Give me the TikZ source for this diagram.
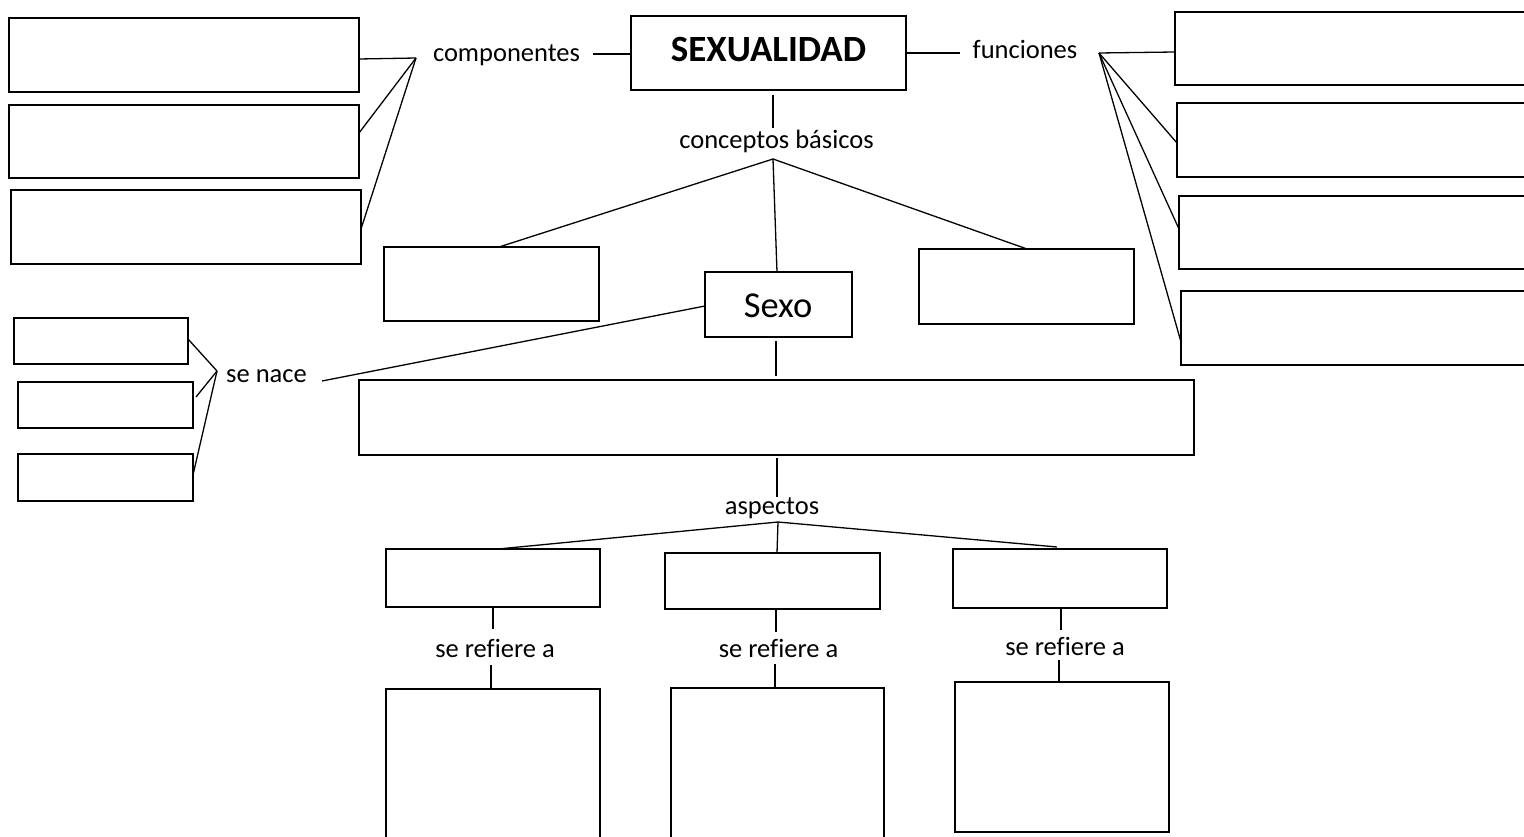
\documentclass[tikz,border=0pt]{standalone}
\usepackage{fontspec}
\setmainfont{Carlito}[Ligatures=NoCommon]
\begin{document}
\begin{tikzpicture}[x=1pt,y=-1pt, line width=1.3pt,
  box/.style={draw, rectangle, inner sep=0pt, outer sep=0pt},
  lbl/.style={anchor=base, inner sep=0pt, font=\fontsize{26.5}{30}\selectfont}]
\useasboundingbox (0,0) rectangle (1524,837);
\clip (0,0) rectangle (1524,837);
% boxes
\node[box, minimum width=350pt, minimum height=74pt] (L1) at (184,55) {};
\node[box, minimum width=350pt, minimum height=73pt] (L2) at (184,141.5) {};
\node[box, minimum width=350pt, minimum height=74pt] (L3) at (186,227) {};
\node[box, minimum width=275pt, minimum height=74pt] (SX) at (768.5,53) {};
\node[box, minimum width=365pt, minimum height=73pt] (R1) at (1357.5,48.5) {};
\node[box, minimum width=363pt, minimum height=74pt] (R2) at (1358.5,140) {};
\node[box, minimum width=361pt, minimum height=73pt] (R3) at (1359.5,232.5) {};
\node[box, minimum width=359pt, minimum height=74pt] (R4) at (1360.5,328) {};
\node[box, minimum width=215pt, minimum height=74pt] (CB1) at (491.5,284) {};
\node[box, minimum width=147pt, minimum height=65pt] (SEXO) at (778.5,304.5) {};
\node[box, minimum width=215pt, minimum height=75pt] (CB3) at (1026.5,286.5) {};
\node[box, minimum width=174pt, minimum height=46pt] (SN1) at (101,341) {};
\node[box, minimum width=175pt, minimum height=46pt] (SN2) at (105.5,405) {};
\node[box, minimum width=175pt, minimum height=47pt] (SN3) at (105.5,477.5) {};
\node[box, minimum width=835pt, minimum height=75pt] (BIG) at (776.5,417.5) {};
\node[box, minimum width=214pt, minimum height=58pt] (A1) at (493,578) {};
\node[box, minimum width=215pt, minimum height=56pt] (A2) at (772.5,581) {};
\node[box, minimum width=214pt, minimum height=59pt] (A3) at (1060,578.5) {};
\node[box, minimum width=214pt, minimum height=171pt] (B1) at (493,774.5) {};
\node[box, minimum width=213pt, minimum height=172pt] (B2) at (777.5,774) {};
\node[box, minimum width=214pt, minimum height=150pt] (B3) at (1062,757) {};
% texts
\node[anchor=base, inner sep=0pt, font=\fontsize{37}{40}\selectfont\bfseries] (SXt) at (768.5,62) {SEXUALIDAD};
\node[anchor=base, inner sep=0pt, font=\fontsize{36.5}{40}\selectfont] (SEXOt) at (778,317) {Sexo};
\node[lbl] (comp) at (506.5,62) {componentes};
\node[lbl] (func) at (1025,59) {funciones};
\node[lbl] (conc) at (776.5,149) {conceptos básicos};
\node[lbl] (senace) at (266.5,382) {se nace};
\node[lbl] (asp) at (772,514) {aspectos};
\node[lbl] (ref1) at (495,657) {se refiere a};
\node[lbl] (ref2) at (778.5,657) {se refiere a};
\node[lbl] (ref3) at (1065,655) {se refiere a};
% junction coordinates
\coordinate (jc) at (416,58);
\coordinate (jf) at (1099,53);
\coordinate (jcb) at (773,159);
\coordinate (jsn) at (217,371);
\coordinate (ja) at (778,522);
% componentes
\draw (L1.east |- 0,59) -- (jc);
\draw (L2.east |- 0,133) -- (jc);
\draw (L3.east |- 0,229) -- (jc);
\coordinate (compR) at (593,54);
\draw (compR) -- (SX.west |- compR);
% funciones
\coordinate (funcL) at (960,53);
\draw (SX.east |- funcL) -- (funcL);
\draw (jf) -- (R1.west |- 0,52);
\draw (jf) -- (R2.west |- 0,143);
\draw (jf) -- (R3.west |- 0,229);
\draw (jf) -- (R4.west |- 0,342);
% conceptos basicos
\coordinate (sxb1) at (773,95);
\coordinate (sxb2) at (773,128);
\draw (sxb1) -- (sxb2);
\draw (jcb) -- (CB1.north -| 499,0);
\draw (jcb) -- (SEXO.north -| 777,0);
\draw (jcb) -- (CB3.north -| 1027,0);
% se nace
\coordinate (snR) at (322,381);
\draw (SEXO.west |- 0,306) -- (snR);
\draw (jsn) -- (SN1.east |- 0,339);
\draw (jsn) -- (196,397);
\draw (jsn) -- (SN3.east |- 0,475);
% sexo to big box
\coordinate (s1) at (776,341);
\coordinate (s2) at (776,376);
\draw (s1) -- (s2);
\coordinate (b1) at (777,458);
\coordinate (b2) at (777,497);
\draw (b1) -- (b2);
% aspectos
\draw (ja) -- (A1.north -| 498,0);
\draw (ja) -- (A2.north -| 777,0);
\draw (ja) -- (1057,547);
% se refiere a lines
\coordinate (r1a) at (493,629); \draw (A1.south -| r1a) -- (r1a);
\coordinate (r1b) at (491,665); \draw (r1b) -- (B1.north -| r1b);
\coordinate (r2a) at (776,632); \draw (A2.south -| r2a) -- (r2a);
\coordinate (r2b) at (775,664); \draw (r2b) -- (B2.north -| r2b);
\coordinate (r3a) at (1061,630); \draw (A3.south -| r3a) -- (r3a);
\coordinate (r3b) at (1059,660); \draw (r3b) -- (B3.north -| r3b);
\end{tikzpicture}
\end{document}
